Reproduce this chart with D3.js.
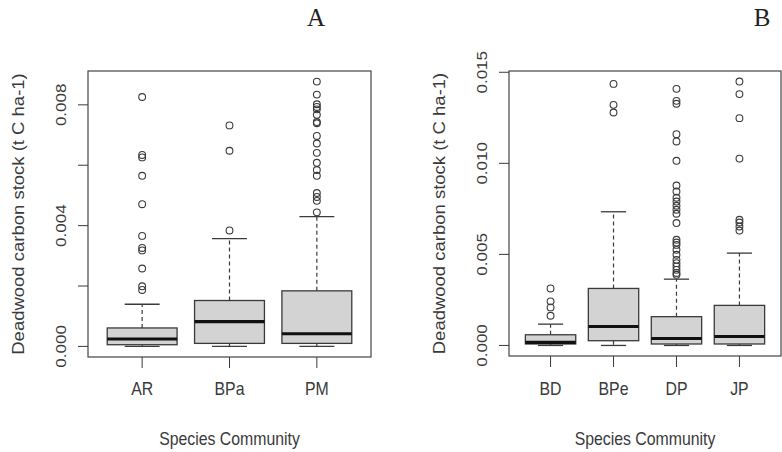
<!DOCTYPE html>
<html>
<head>
<meta charset="utf-8">
<script src="https://cdn.jsdelivr.net/npm/d3@7"></script>
<style>
  body { margin: 0; background: #fff; }
  svg { display: block; }
  text { font-family: "Liberation Sans", Arial, sans-serif; fill: #3a3a3a; }
</style>
</head>
<body>
<svg width="782" height="452"></svg>
<script>
// ---- data (t C ha-1) ----
// stats = [lower whisker, Q1, median, Q3, upper whisker]
const groupsA = ["AR", "BPa", "PM"];
const statsA = [
  [0, 0.000056, 0.000245, 0.000611, 0.001396],
  [0, 0.0001, 0.00082, 0.00152, 0.00357],
  [0, 0.0001, 0.00042, 0.00184, 0.0043]
];
const outliersA = [
  [0.00826, 0.00634, 0.00626, 0.00565, 0.00471, 0.00366, 0.00326, 0.00318, 0.00258, 0.00199, 0.00187],
  [0.00732, 0.00648, 0.00384],
  [0.00877, 0.00834, 0.00802, 0.00793, 0.00785, 0.00767, 0.00743, 0.00739, 0.00697, 0.00672,
   0.00641, 0.00608, 0.00584, 0.00565, 0.00508, 0.00495, 0.00482, 0.00444]
];
const ticksA = [0, 0.002, 0.004, 0.006, 0.008];
const tickLabelsA = [0, 0.004, 0.008];

const groupsB = ["BD", "BPe", "DP", "JP"];
const statsB = [
  [0, 0.00008, 0.00017, 0.000587, 0.00117],
  [0, 0.00026, 0.00104, 0.00313, 0.00734],
  [0, 0.00008, 0.00038, 0.00158, 0.00364],
  [0, 0.00008, 0.00049, 0.0022, 0.00507]
];
const outliersB = [
  [0.00313, 0.00242, 0.00209, 0.00163],
  [0.01436, 0.01321, 0.01279],
  [0.01409, 0.01343, 0.01327, 0.0116, 0.0112, 0.01014, 0.00878, 0.00845, 0.00811, 0.0079,
   0.00767, 0.00745, 0.00723, 0.00672, 0.0058, 0.00565, 0.00552, 0.00525, 0.00498, 0.0047,
   0.00452, 0.00434, 0.00415, 0.00398, 0.00388],
  [0.01449, 0.0138, 0.01248, 0.01026, 0.0069, 0.00675, 0.00653, 0.00631]
];
const ticksB = [0, 0.005, 0.010, 0.015];
const tickLabelsB = [0, 0.005, 0.010, 0.015];

const yTitle = "Deadwood carbon stock (t C ha-1)";
const xTitle = "Species Community";

const svg = d3.select("svg");
const lineCol = "#3a3a3a";
const squeeze = 0.88; // picture is a little narrower than tall

function panel(opt) {
  const { left, right, top, bottom, groups, stats, outliers, ticks, tickLabels, letter, letterX } = opt;
  const n = groups.length;
  // R style 4% axis extension
  const xs = d3.scaleLinear().domain([0.5 - 0.04 * n, n + 0.5 + 0.04 * n]).range([left, right]);
  const maxV = d3.max(outliers.flat().concat(stats.map(s => s[4])));
  const ext = 0.04 * maxV;
  const ys = d3.scaleLinear().domain([-ext, maxV + ext]).range([bottom, top]);
  const g = svg.append("g");
  const bw = (xs(1.4) - xs(0.6)) ;

  groups.forEach((name, i) => {
    const cx = xs(i + 1);
    const s = stats[i];
    // whiskers (dashed)
    g.append("line").attr("x1", cx).attr("x2", cx).attr("y1", ys(s[3])).attr("y2", ys(s[4]))
      .attr("stroke", lineCol).attr("stroke-width", 1.2).attr("stroke-dasharray", "4,3");
    g.append("line").attr("x1", cx).attr("x2", cx).attr("y1", ys(s[1])).attr("y2", ys(s[0]))
      .attr("stroke", lineCol).attr("stroke-width", 1.2).attr("stroke-dasharray", "4,3");
    // staples
    [s[0], s[4]].forEach(v => {
      g.append("line").attr("x1", cx - bw / 4).attr("x2", cx + bw / 4)
        .attr("y1", ys(v)).attr("y2", ys(v)).attr("stroke", lineCol).attr("stroke-width", 1.3);
    });
    // box
    g.append("rect").attr("x", cx - bw / 2).attr("width", bw)
      .attr("y", ys(s[3])).attr("height", ys(s[1]) - ys(s[3]))
      .attr("fill", "#d3d3d3").attr("stroke", lineCol).attr("stroke-width", 1.3);
    // median
    g.append("line").attr("x1", cx - bw / 2).attr("x2", cx + bw / 2)
      .attr("y1", ys(s[2])).attr("y2", ys(s[2])).attr("stroke", "#111").attr("stroke-width", 3.2);
    // outliers
    g.selectAll(null).data(outliers[i]).enter().append("circle")
      .attr("cx", cx).attr("cy", d => ys(d)).attr("r", 3.4)
      .attr("fill", "none").attr("stroke", lineCol).attr("stroke-width", 1.1);
    // x tick + label
    g.append("line").attr("x1", cx).attr("x2", cx).attr("y1", bottom).attr("y2", bottom + 11)
      .attr("stroke", lineCol).attr("stroke-width", 1);
    g.append("text").attr("transform", `translate(${cx},395) scale(${squeeze},1)`)
      .attr("text-anchor", "middle").attr("font-size", 18).text(name);
  });

  // frame
  g.append("rect").attr("x", left).attr("y", top).attr("width", right - left).attr("height", bottom - top)
    .attr("fill", "none").attr("stroke", "#444").attr("stroke-width", 1.2);

  // y ticks
  ticks.forEach(t => {
    g.append("line").attr("x1", left - 10).attr("x2", left).attr("y1", ys(t)).attr("y2", ys(t))
      .attr("stroke", lineCol).attr("stroke-width", 1);
  });
  tickLabels.forEach(t => {
    g.append("text").attr("transform", `translate(${left - 22},${ys(t)}) rotate(-90) scale(1,${squeeze})`)
      .attr("text-anchor", "middle").attr("font-size", 17).text(d3.format(".3f")(t));
  });

  // axis titles
  g.append("text").attr("transform", `translate(${left - 64},${(top + bottom) / 2}) rotate(-90) scale(1,${squeeze})`)
    .attr("text-anchor", "middle").attr("font-size", 18.5).text(yTitle);
  g.append("text").attr("transform", `translate(${(left + right) / 2},445) scale(${squeeze},1)`)
    .attr("text-anchor", "middle").attr("font-size", 18).text(xTitle);

  // panel letter
  g.append("text").attr("x", letterX).attr("y", 26).attr("text-anchor", "middle")
    .style("font-family", "'Liberation Serif', 'Times New Roman', serif").style("fill", "#222")
    .attr("font-size", 25).text(letter);
}

panel({ left: 88, right: 371, top: 71, bottom: 357, groups: groupsA, stats: statsA, outliers: outliersA,
        ticks: ticksA, tickLabels: tickLabelsA, letter: "A", letterX: 316 });
panel({ left: 509, right: 781, top: 71, bottom: 356, groups: groupsB, stats: statsB, outliers: outliersB,
        ticks: ticksB, tickLabels: tickLabelsB, letter: "B", letterX: 762 });
</script>
</body>
</html>
